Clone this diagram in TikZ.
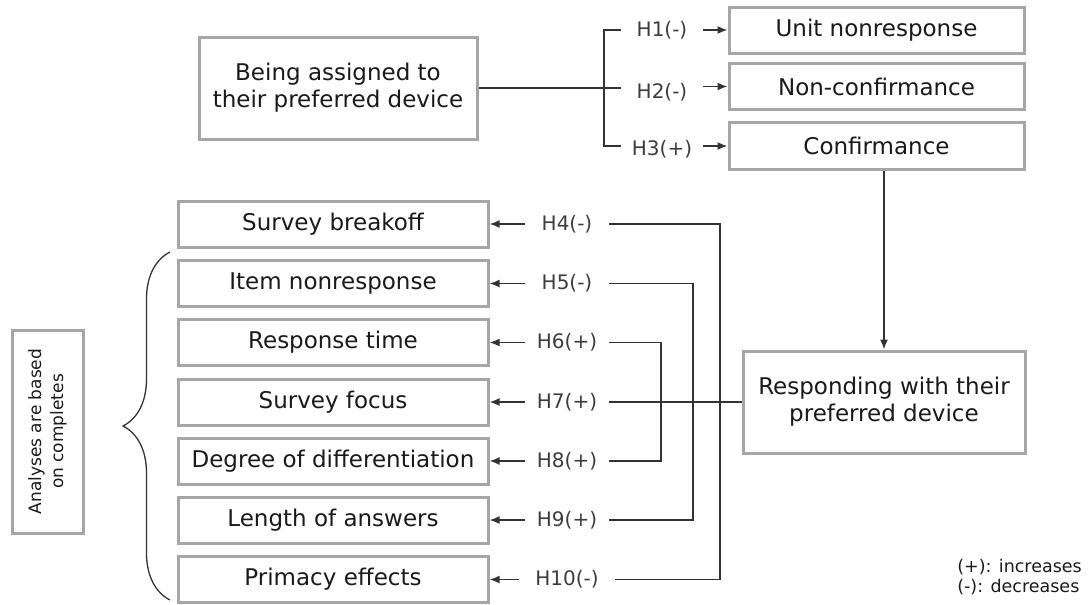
\documentclass[tikz,border=0pt]{standalone}
\usepackage{fontspec}
\setmainfont{DejaVu Sans}
\usetikzlibrary{arrows.meta,decorations.pathreplacing}
\definecolor{boxgray}{HTML}{A6A6A6}
\definecolor{linegray}{HTML}{333333}
\definecolor{txt}{HTML}{1A1A1A}
\begin{document}
\begin{tikzpicture}[x=1pt,y=-1pt,
  box/.style={draw=boxgray, line width=3pt, fill=white, text=txt,
    font=\fontsize{23}{27}\selectfont, align=center, inner sep=0pt},
  topbox/.style={box, minimum width=295pt, minimum height=46pt},
  leftbox/.style={box, minimum width=310pt, minimum height=46pt},
  hlab/.style={font=\fontsize{20}{24}\selectfont, text=txt!85, minimum width=84pt, inner sep=0pt},
  conn/.style={draw=linegray, line width=1.7pt},
  arr/.style={conn, -{Latex[length=10pt,width=8pt]}}]
\useasboundingbox (0,0) rectangle (1088,605);

% top part
\node[box, minimum width=278pt, minimum height=102pt] (assign) at (338,88) {Being assigned to\\their preferred device};
\node[topbox] (unit) at (876.5,30) {Unit nonresponse};
\node[topbox] (noncf) at (876.5,86.5) {Non-confirmance};
\node[topbox, minimum height=47pt] (conf) at (876.5,146) {Confirmance};
\node[hlab, minimum width=82pt] (h1) at (662,30) {H1(-)};
\node[hlab, minimum width=82pt] (h2) at (662,92) {H2(-)};
\node[hlab, minimum width=82pt] (h3) at (662,149) {H3(+)};
\coordinate (bk) at (604,88);
\draw[arr] (h1.east) -- (unit.west);
\draw[arr] (h2.east |- noncf.west) -- (noncf.west);
\draw[arr] (h3.east |- conf.west) -- (conf.west);
\draw[conn] (h1.west |- unit.west) -| (bk) |- (h3.west |- conf.west);
\draw[conn] (assign.east) -- (assign.east -| h2.west);

% responding box
\node[box, minimum width=282pt, minimum height=102pt] (resp) at (884,402) {Responding with their\\preferred device};
\draw[arr] (resp.north |- conf.south) -- (resp.north);

% left column
\node[leftbox] (sb) at (333,224) {Survey breakoff};
\node[leftbox] (inr) at (333,283.5) {Item nonresponse};
\node[leftbox] (rt) at (333,342.5) {Response time};
\node[leftbox] (sf) at (333,402) {Survey focus};
\node[leftbox] (dd) at (333,461) {Degree of differentiation};
\node[leftbox] (la) at (333,520) {Length of answers};
\node[leftbox] (pe) at (333,579.5) {Primacy effects};

\node[hlab] (h4) at (567,224) {H4(-)};
\node[hlab] (h5) at (567,283.5) {H5(-)};
\node[hlab] (h6) at (567,342.5) {H6(+)};
\node[hlab] (h7) at (567,402) {H7(+)};
\node[hlab] (h8) at (567,461) {H8(+)};
\node[hlab] (h9) at (567,520) {H9(+)};
\node[hlab, minimum width=96pt] (h10) at (567,579.5) {H10(-)};

\foreach \h/\b in {h4/sb,h5/inr,h6/rt,h7/sf,h8/dd,h9/la,h10/pe}
  \draw[arr] (\h.west) -- (\b.east);

\coordinate (v1) at (661,402);
\coordinate (v2) at (693,402);
\coordinate (v3) at (720,402);
\draw[conn] (h4.east) -| (v3) |- (h10.east);
\draw[conn] (h5.east) -| (v2) |- (h9.east);
\draw[conn] (h6.east) -| (v1) |- (h8.east);
\draw[conn] (h7.east) -- (resp.west);

% brace and note
\draw[conn, line width=1.3pt, decorate, decoration={brace, amplitude=47pt}] (170,600) -- (170,252);
\node[box, rotate=90, minimum width=203pt, minimum height=71pt,
  font=\fontsize{17}{22}\selectfont] (anal) at (47.5,431.5) {Analyses are based\\on completes};

% legend
\node[anchor=east, align=left, inner sep=0pt, text=txt,
  font=\fontsize{17.5}{20}\selectfont] (legend) at (1082,577) {(+): increases\\(-): decreases};
\end{tikzpicture}
\end{document}
